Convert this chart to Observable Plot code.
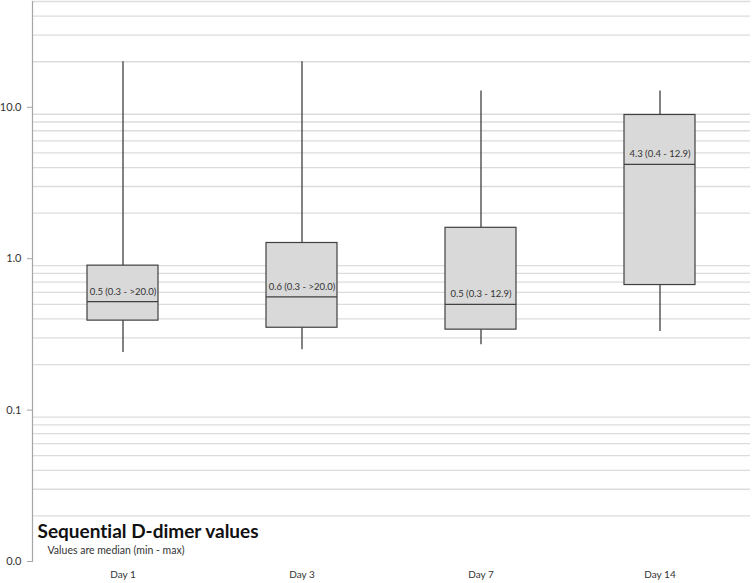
<!DOCTYPE html>
<html>
<head>
<meta charset="utf-8">
<script src="https://cdn.jsdelivr.net/npm/d3@7"></script>
<script src="https://cdn.jsdelivr.net/npm/@observablehq/plot@0.6"></script>
<style>
  html, body { margin: 0; padding: 0; background: #fff; }
  svg { display: block; }
  svg text { font-variant-ligatures: none; }
</style>
</head>
<body>
<div id="chart"></div>
<script>
const categories = ["Day 1", "Day 3", "Day 7", "Day 14"];
const mins    = [0.24, 0.25, 0.27, 0.33];
const q1s     = [0.39, 0.35, 0.34, 0.67];
const medians = [0.52, 0.56, 0.50, 4.2];
const q3s     = [0.90, 1.27, 1.60, 8.9];
const maxs    = [20.0, 20.0, 12.8, 12.8];
const boxLabels = ["0.5 (0.3 - >20.0)", "0.6 (0.3 - >20.0)", "0.5 (0.3 - 12.9)", "4.3 (0.4 - 12.9)"];
const yTicks = [0.01, 0.1, 1, 10];
const gridValues = [0.02, 0.03, 0.04, 0.05, 0.06, 0.07, 0.08, 0.09,
                    0.2, 0.3, 0.4, 0.5, 0.6, 0.7, 0.8, 0.9,
                    2, 3, 4, 5, 6, 7, 8, 9,
                    20, 30, 40, 50];
const title = "Sequential D-dimer values";
const subtitle = "Values are median (min - max)";

const data = categories.map((c, i) => ({
  day: c, min: mins[i], q1: q1s[i], median: medians[i], q3: q3s[i], max: maxs[i], label: boxLabels[i]
}));

const font = "Lato, 'Open Sans', sans-serif";
const dark = "#404040";

const chart = Plot.plot({
  width: 752,
  height: 583,
  marginLeft: 32,
  marginRight: 2,
  marginTop: 1,
  marginBottom: 22,
  style: { fontFamily: font, background: "#fff" },
  x: { type: "band", domain: categories, padding: 0, label: null },
  y: { type: "log", domain: [0.01, 50], label: null },
  marks: [
    Plot.ruleY(gridValues, { stroke: "#dcdcdc", strokeWidth: 1.3 }),
    Plot.frame({ anchor: "left", stroke: "#a6a6a6", strokeWidth: 1.2 }),
    Plot.axisY({ ticks: yTicks, tickFormat: d3.format(".1f"), tickSize: 5, tickPadding: 6,
                 stroke: "#a6a6a6", fill: "#333", fontSize: 11, label: null }),
    Plot.axisX({ tickSize: 0, tickPadding: 9, fill: "#333", fontSize: 10, label: null }),
    // whiskers
    Plot.ruleX(data, { x: "day", y1: "min", y2: "q1", stroke: dark, strokeWidth: 1.3 }),
    Plot.ruleX(data, { x: "day", y1: "q3", y2: "max", stroke: dark, strokeWidth: 1.3 }),
    // boxes
    Plot.rectY(data, { x: "day", y1: "q1", y2: "q3", fill: "#d9d9d9", stroke: dark, strokeWidth: 1.2,
                       insetLeft: 54, insetRight: 54 }),
    // medians
    Plot.tickY(data, { x: "day", y: "median", stroke: dark, strokeWidth: 1.2, insetLeft: 54, insetRight: 54 }),
    // labels
    Plot.text(data, { x: "day", y: "median", text: "label", dy: -10, fill: "#333", fontSize: 9.5 }),
    // title & subtitle
    Plot.text([title], { frameAnchor: "bottom-left", text: d => d, dx: 5, dy: -24, lineAnchor: "bottom",
                         textAnchor: "start", fontSize: 19, fontWeight: "bold", fill: "#111" }),
    Plot.text([subtitle], { frameAnchor: "bottom-left", text: d => d, dx: 15, dy: -8, lineAnchor: "bottom",
                            textAnchor: "start", fontSize: 10.5, fill: "#333" })
  ]
});
document.getElementById("chart").appendChild(chart);
</script>
</body>
</html>
